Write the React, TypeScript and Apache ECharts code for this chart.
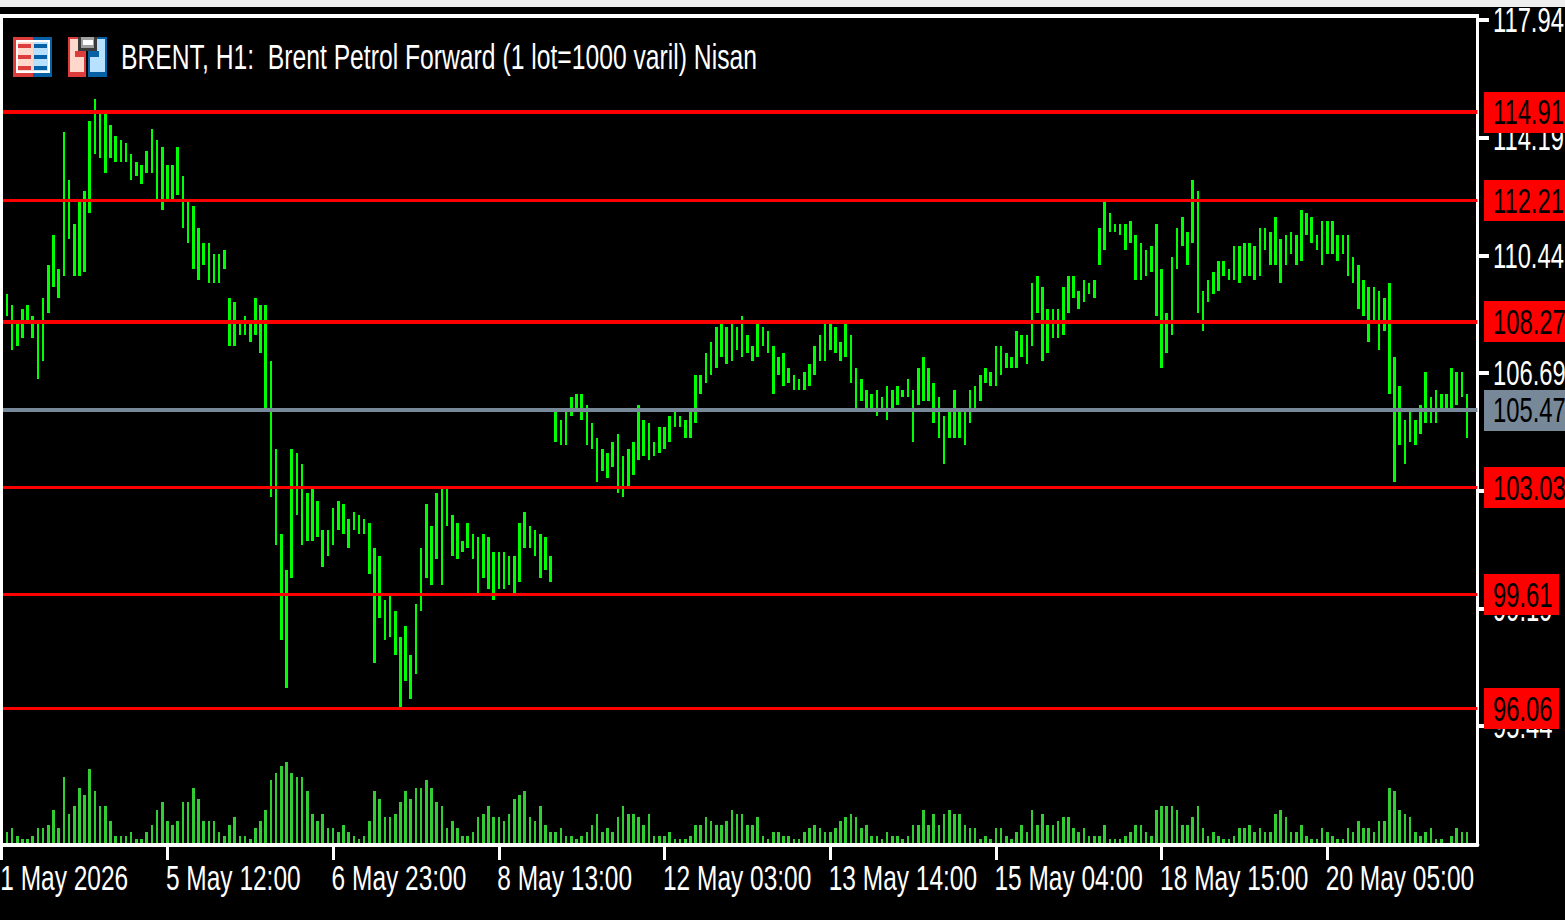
import React, { useEffect, useRef } from "react";
import * as echarts from "echarts";

const TITLE = "BRENT, H1:  Brent Petrol Forward (1 lot=1000 varil) Nisan";
const xTickLabels = ["1 May 2026","5 May 12:00","6 May 23:00","8 May 13:00","12 May 03:00","13 May 14:00","15 May 04:00","18 May 15:00","20 May 05:00"];
const yTickValues = [95.44,99.19,102.94,106.69,110.44,114.19,117.94];
const levelLabels = ["114.91","112.21","108.27","105.47","103.03","99.61","96.06"];
const levelPositions = [115.01,112.19,108.32,105.51,103.04,99.63,96.0];

const highs = [
109.21,108.86,108.35,108.73,108.86,108.51,108.25,109.08,110.13,111.09,110.00,114.37,112.84,111.44,112.17,112.49,114.72,115.42,115.01,114.98,
114.59,114.24,114.12,114.02,113.67,113.41,113.32,113.77,114.47,114.12,113.89,113.32,113.32,113.89,112.97,112.14,112.01,111.31,110.83,110.83,
110.48,110.48,110.61,109.08,108.95,108.38,108.51,108.32,109.08,108.86,108.86,107.07,104.27,101.56,100.41,104.27,104.14,103.79,102.87,103.00,
102.61,101.69,101.69,102.39,102.61,102.51,102.04,102.26,102.16,102.04,101.91,101.11,100.86,99.46,99.58,99.10,98.28,98.63,97.70,99.33,
101.11,102.51,101.81,102.87,103.00,103.00,102.16,101.91,101.34,101.91,101.56,101.46,101.56,101.46,100.99,100.99,100.99,100.86,100.86,101.91,
102.26,101.81,101.69,101.56,101.46,100.86,105.57,105.19,105.45,105.92,106.02,106.02,105.67,105.10,104.62,104.27,104.14,104.49,104.75,104.04,
104.27,104.49,105.67,105.19,105.10,104.49,104.97,104.97,105.32,105.45,105.32,105.19,105.45,106.63,106.63,107.33,107.68,108.16,108.28,108.16,
108.28,108.16,108.51,107.90,107.55,108.28,108.16,108.03,107.55,107.20,107.33,106.85,106.63,106.50,106.72,106.98,107.55,107.90,108.28,108.28,
108.16,107.68,108.28,107.90,106.85,106.50,106.15,106.02,106.15,105.92,106.28,106.15,106.28,106.15,106.50,106.15,106.85,107.20,106.85,106.37,
105.92,105.32,105.57,106.15,105.45,105.45,106.15,106.28,106.63,106.85,106.72,107.55,107.55,107.33,107.20,108.03,107.90,107.90,109.56,109.78,
109.43,108.73,108.73,108.73,109.43,109.78,109.78,109.30,109.65,109.56,109.65,111.31,112.17,111.79,111.44,111.44,111.44,111.53,111.09,110.83,
110.61,110.74,111.44,110.00,108.60,110.38,111.31,111.66,111.18,112.84,112.49,109.30,109.65,109.91,110.26,110.26,110.00,110.74,110.74,110.83,
110.83,110.74,111.31,111.31,111.18,111.66,110.96,111.09,111.18,111.09,111.88,111.79,111.66,111.09,111.53,111.53,111.53,111.09,111.09,111.09,
110.38,110.13,109.65,109.43,109.43,109.30,109.08,109.56,107.20,106.28,105.19,105.45,105.19,105.67,106.72,105.92,106.15,106.02,106.02,106.85,
106.72,106.72,106.02];

const lows = [
108.51,107.42,107.55,107.81,108.32,107.81,106.50,107.07,108.60,109.43,109.08,109.78,110.96,109.78,109.78,109.91,111.79,113.67,113.54,113.06,
113.54,113.41,113.41,113.41,112.84,112.97,112.71,113.06,113.06,112.24,111.88,112.24,112.24,112.36,111.31,110.83,110.00,109.65,110.13,109.56,
109.56,109.56,110.00,107.55,107.55,107.90,107.90,107.68,107.90,107.33,105.54,102.74,101.21,98.18,96.65,100.16,102.16,101.21,101.34,101.34,
101.46,100.51,100.86,101.21,101.69,101.56,101.11,101.69,101.56,101.56,100.28,97.45,98.88,98.18,98.28,97.70,96.04,96.87,96.30,97.09,
99.10,100.16,99.93,100.76,99.93,101.81,100.86,100.76,100.99,101.11,100.76,99.68,100.16,99.81,99.46,99.81,99.81,99.93,99.68,100.03,
101.11,101.11,100.86,100.16,100.41,100.03,104.49,104.40,104.40,105.32,105.51,105.19,104.40,104.27,103.22,103.57,103.34,103.69,102.87,102.74,
103.09,103.44,103.92,104.04,103.92,104.04,104.14,104.27,104.49,104.97,104.97,104.62,104.62,105.10,106.02,106.37,106.63,106.85,107.20,106.98,
107.07,107.42,107.20,107.33,107.07,107.20,107.55,107.33,106.02,106.63,106.28,106.37,106.15,106.15,106.15,106.28,106.63,107.07,107.07,107.42,
107.33,107.07,107.20,106.37,105.57,105.80,105.45,105.57,105.32,105.45,105.19,105.45,105.67,105.92,105.92,104.49,105.67,105.80,105.80,105.10,
104.62,103.79,104.62,104.62,104.62,104.40,105.10,105.57,105.80,106.37,106.28,106.28,106.63,106.85,106.85,106.85,107.20,106.98,107.55,108.60,
107.07,107.33,107.81,107.81,107.90,108.60,109.08,108.73,108.95,109.21,109.08,110.13,110.61,111.18,111.18,111.09,110.61,110.83,109.65,109.65,
109.78,109.91,108.51,106.85,107.33,107.90,110.00,110.74,110.13,110.83,108.60,108.03,108.95,109.21,109.30,109.78,109.65,109.65,109.56,109.78,
109.78,109.65,109.78,110.61,110.13,110.13,109.56,110.13,110.48,110.13,110.26,111.09,110.83,110.61,110.13,110.48,110.48,110.26,110.48,109.78,
109.56,108.73,108.51,107.68,108.38,107.42,108.03,106.02,103.22,104.40,103.79,104.49,104.40,104.75,105.10,105.10,105.10,105.57,105.45,105.45,
105.67,105.92,104.62];

const volumes = [
11,15,7,4,4,7,15,15,18,33,15,66,29,37,55,48,74,52,37,37,
22,7,7,7,11,4,4,11,18,33,41,22,18,22,41,41,55,44,22,22,
22,11,7,18,26,7,7,4,15,22,33,63,70,77,81,70,66,66,52,29,
22,29,15,15,11,18,11,7,4,7,22,52,44,26,26,29,41,52,44,55,
55,63,55,41,37,15,22,15,7,7,11,26,29,37,26,26,22,29,44,48,
52,26,22,37,18,11,11,15,7,7,4,7,11,18,29,11,15,11,26,37,
29,29,26,18,29,7,7,7,11,4,4,4,7,18,18,26,22,18,18,22,
33,29,29,18,18,26,7,4,11,11,7,7,4,4,11,15,18,15,11,11,
15,22,26,29,26,15,18,7,7,4,11,7,7,4,7,18,18,33,18,29,
18,29,33,29,29,18,15,15,4,7,4,15,15,7,4,11,18,11,33,18,
29,18,18,22,26,26,15,11,15,7,7,7,18,4,4,4,7,11,18,18,
11,7,33,37,37,37,33,18,18,26,37,15,7,11,7,4,4,7,15,15,
18,11,15,11,11,29,33,26,11,11,18,7,4,4,15,11,7,4,4,15,
11,22,15,15,11,22,22,55,52,33,29,26,11,7,11,15,4,4,0,7,
15,11,11];

const GREEN = "#00ff00";
const VOL_GREEN = "#32cd32";
const RED = "#ff0000";
const SLATE = "#778899";
const WHITE = "#ffffff";
const FONT = "'Liberation Sans', sans-serif";
const TICK_EVERY = 32;
const Y_MIN = 91.65;
const Y_MAX = 118.07;
const categories = Array.from({ length: 286 }, (_, i) =>
  i % TICK_EVERY === 0 ? xTickLabels[i / TICK_EVERY] ?? "" : ""
);
const LAST_CAT = categories.length - 1;

function snapX(cx: number) {
  const l = Math.round(cx - 1.3);
  const r = Math.round(cx + 1.3);
  return { x: l, width: r - l };
}

const rect = (x: number, y: number, width: number, height: number, fill: string, z = 50) => ({
  type: "rect",
  z,
  shape: { x, y, width, height },
  style: { fill },
  silent: true,
});

const squeezedText = (text: string, x: number, y: number, fill: string, scaleX: number) => ({
  type: "text",
  x,
  y,
  scaleX,
  style: { text, fill, font: `35px ${FONT}`, align: "left", verticalAlign: "middle" },
});

function icons() {
  const red = "#dc3c3c";
  const blue = "#0560a6";
  const pink = "#ffd8cc";
  const sky = "#b8e0ff";
  const stripes = [44, 55, 66];
  return [
    rect(13, 37, 20, 40, red, 51),
    rect(33, 37, 19, 40, blue, 51),
    rect(16, 40, 34, 33, WHITE, 52),
    rect(18, 42, 15, 29, pink, 53),
    rect(33, 42, 15, 29, sky, 53),
    ...stripes.flatMap((y) => [rect(18, y, 13, 4, red, 54), rect(34, y, 13, 4, blue, 54)]),
    rect(68, 37, 18, 40, red, 51),
    rect(88, 37, 19, 40, blue, 51),
    rect(70, 39, 14, 33, pink, 52),
    rect(90, 39, 15, 33, sky, 52),
    rect(75, 51, 11, 6, red, 53),
    rect(88, 51, 11, 6, blue, 53),
    rect(78, 37, 19, 14, "#3a3a3a", 54),
    rect(81, 37, 13, 11, "#a0a0a0", 55),
    rect(83, 40, 10, 5, WHITE, 56),
  ];
}

export default function App() {
  const ref = useRef<HTMLDivElement>(null);
  useEffect(() => {
    document.body.style.margin = "0";
    document.body.style.background = "#000";
    const chart = echarts.init(ref.current!, undefined, { renderer: "svg" });
    const levelWidths = [4, 3, 4, 4, 3, 3, 3];
    const boxWidths = [81, 81, 81, 81, 81, 75, 75];
    const levelColor = (i: number) => (i === 3 ? SLATE : RED);

    chart.setOption({
      animation: false,
      backgroundColor: "#000000",
      grid: [
        { left: 1.72, top: 16, width: 1475.73, height: 829, outerBoundsMode: "none" },
        { left: 1.72, top: 743, width: 1475.73, height: 100, outerBoundsMode: "none" },
      ],
      xAxis: [
        {
          type: "category",
          gridIndex: 0,
          data: categories,
          boundaryGap: false,
          axisLine: { show: true, onZero: false, lineStyle: { color: WHITE, width: 4 } },
          axisTick: {
            show: true,
            length: 15,
            interval: (i: number) => i % TICK_EVERY === 0,
            lineStyle: { color: WHITE, width: 3 },
          },
          axisLabel: { show: false },
          splitLine: { show: false },
        },
        { type: "category", gridIndex: 1, data: categories, boundaryGap: false, show: false },
      ],
      yAxis: [
        {
          type: "value",
          gridIndex: 0,
          position: "right",
          min: Y_MIN,
          max: Y_MAX,
          axisLine: { show: true, lineStyle: { color: WHITE, width: 3 } },
          axisTick: {
            show: true,
            length: 11.5,
            customValues: yTickValues,
            lineStyle: { color: WHITE, width: 4 },
          },
          axisLabel: { show: false },
          splitLine: { show: false },
        },
        { type: "value", gridIndex: 1, min: 0, max: 100, show: false },
      ],
      graphic: [
        rect(0, 0, 1565, 7, "#eeeeee"),
        rect(0, 14, 1479, 4, WHITE),
        rect(0, 14, 3, 833, WHITE),
        ...icons(),
        {
          type: "text",
          x: 121,
          y: 57,
          z: 50,
          scaleX: 0.686,
          style: { text: TITLE, fill: WHITE, font: `36px ${FONT}`, align: "left", verticalAlign: "middle" },
          silent: true,
        },
      ],
      series: [
        {
          type: "custom",
          name: "Volume",
          xAxisIndex: 1,
          yAxisIndex: 1,
          silent: true,
          data: volumes.map((v, i) => [i + 1, v]),
          encode: { x: 0, y: 1 },
          renderItem: (_: unknown, api: any) => {
            const top = api.coord([api.value(0), api.value(1)]);
            const base = api.coord([api.value(0), 0]);
            const h = Math.round(base[1]) - Math.round(top[1]);
            return {
              type: "rect",
              shape: { ...snapX(top[0]), y: Math.round(top[1]), height: h },
              style: { fill: VOL_GREEN },
            };
          },
        },
        {
          type: "custom",
          name: "BRENT",
          xAxisIndex: 0,
          yAxisIndex: 0,
          silent: true,
          z: 3,
          data: highs.map((h, i) => [i + 1, h, lows[i]]),
          encode: { x: 0, y: [1, 2] },
          renderItem: (_: unknown, api: any) => {
            const top = api.coord([api.value(0), api.value(1)]);
            const bot = api.coord([api.value(0), api.value(2)]);
            return {
              type: "rect",
              shape: {
                ...snapX(top[0]),
                y: Math.round(top[1]),
                height: Math.round(bot[1]) - Math.round(top[1]),
              },
              style: { fill: GREEN },
            };
          },
          markLine: {
            silent: true,
            symbol: "none",
            animation: false,
            label: { show: false },
            data: levelPositions.map((v, i) => ({
              yAxis: v,
              lineStyle: { color: levelColor(i), width: levelWidths[i], type: "solid" },
              label: { show: false },
            })),
          },
        },
        {
          type: "custom",
          name: "X tick labels",
          xAxisIndex: 0,
          yAxisIndex: 0,
          silent: true,
          z: 4,
          data: xTickLabels.map((_, i) => [i * TICK_EVERY, Y_MIN]),
          encode: { x: 0, y: 1 },
          renderItem: (params: any, api: any) => {
            const p = api.coord([api.value(0), api.value(1)]);
            return squeezedText(xTickLabels[params.dataIndex], p[0] - 1.5, p[1] + 33, WHITE, 0.7);
          },
        },
        {
          type: "custom",
          name: "Y tick labels",
          xAxisIndex: 0,
          yAxisIndex: 0,
          silent: true,
          z: 4,
          data: yTickValues.map((v) => [LAST_CAT, v]),
          encode: { x: 0, y: 1 },
          renderItem: (_: unknown, api: any) => {
            const p = api.coord([api.value(0), api.value(1)]);
            return squeezedText(api.value(1).toFixed(2), p[0] + 15.5, p[1], WHITE, 0.68);
          },
        },
        {
          type: "custom",
          name: "Level tags",
          xAxisIndex: 0,
          yAxisIndex: 0,
          silent: true,
          z: 6,
          data: levelPositions.map((v) => [LAST_CAT, v]),
          encode: { x: 0, y: 1 },
          renderItem: (params: any, api: any) => {
            const p = api.coord([api.value(0), api.value(1)]);
            const i = params.dataIndex;
            return {
              type: "group",
              children: [
                {
                  type: "rect",
                  shape: { x: Math.round(p[0] + 6.55), y: Math.round(p[1] - 20.5), width: boxWidths[i], height: 41 },
                  style: { fill: levelColor(i) },
                },
                squeezedText(levelLabels[i], p[0] + 15.5, p[1], "#000000", 0.68),
              ],
            };
          },
        },
      ],
    });
    return () => chart.dispose();
  }, []);
  return <div ref={ref} style={{ width: 1565, height: 920, position: "absolute", left: 0, top: 0 }} />;
}
